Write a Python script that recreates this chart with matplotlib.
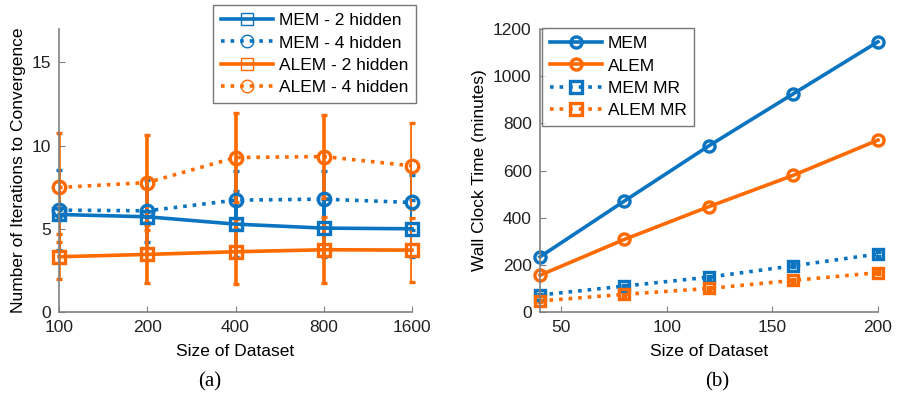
import matplotlib
matplotlib.use('Agg')
from matplotlib import pyplot as plt
from matplotlib.lines import Line2D

plt.rcParams['font.family'] = ['Liberation Sans', 'DejaVu Sans']

blue = '#0a74c0'
orange = '#ff6a00'

# (a) iterations to convergence
sizes_a = ['100', '200', '400', '800', '1600']
mem2 = [5.86, 5.72, 5.28, 5.04, 5.0]
mem2_err = [0.3, 0.3, 2.0, 1.72, 1.7]
mem4 = [6.12, 6.08, 6.72, 6.78, 6.58]
mem4_err = [2.4, 1.86, 1.76, 1.7, 1.64]
alem2 = [3.32, 3.46, 3.62, 3.74, 3.72]
alem2_err = [1.36, 1.74, 1.95, 1.98, 1.94]
alem4 = [7.48, 7.78, 9.28, 9.34, 8.78]
alem4_err = [3.3, 2.86, 2.68, 2.52, 2.58]

# (b) wall clock time
sizes_b = [40, 80, 120, 160, 200]
mem_t = [234, 471, 705, 926, 1146]
alem_t = [156, 308, 447, 580, 729]
mem_mr = [72, 110, 148, 196, 246]
mem_mr_err = [5, 6, 6, 7, 8]
alem_mr = [47, 75, 100, 134, 167]
alem_mr_err = [4, 5, 5, 6, 7]

fs = 12.5

fig = plt.figure(figsize=(8.97, 3.96), dpi=100)
ax1 = fig.add_axes([0.0658, 0.2121, 0.3935, 0.7146])
ax2 = fig.add_axes([0.602, 0.2121, 0.3768, 0.7146])

idx = range(len(sizes_a))
kw = dict(lw=2.6, ms=9, mew=2.4, mfc='none', capsize=2.5, capthick=3, elinewidth=2.6)
ax1.errorbar(idx, mem2, yerr=mem2_err, color=blue, ls='-', marker='s', **kw)
ax1.errorbar(idx, mem4, yerr=mem4_err, color=blue, ls=':', marker='o', **kw)
ax1.errorbar(idx, alem2, yerr=alem2_err, color=orange, ls='-', marker='s', **kw)
ax1.errorbar(idx, alem4, yerr=alem4_err, color=orange, ls=':', marker='o', **kw)
ax1.set_xticks(list(idx))
ax1.set_xticklabels(sizes_a)
ax1.set_xlim(0, 4)
ax1.set_ylim(0, 17)
ax1.set_yticks([0, 5, 10, 15])
ax1.set_xlabel('Size of Dataset', fontsize=fs, labelpad=6)
ax1.set_ylabel('Number of Iterations to Convergence', fontsize=fs, labelpad=4)

legkw = dict(fontsize=fs, fancybox=False, edgecolor='#555555', handlelength=3.0,
             borderpad=0.45, labelspacing=0.42, handletextpad=0.35, borderaxespad=0)

hk = dict(lw=2.6, ms=9, mew=1.0, mfc='none')
h1 = [Line2D([], [], color=blue, ls='-', marker='s', **hk),
      Line2D([], [], color=blue, ls=':', marker='o', **hk),
      Line2D([], [], color=orange, ls='-', marker='s', **hk),
      Line2D([], [], color=orange, ls=':', marker='o', **hk)]
l1 = ['MEM - 2 hidden', 'MEM - 4 hidden', 'ALEM - 2 hidden', 'ALEM - 4 hidden']
leg1 = ax1.legend(h1, l1, loc='upper right', bbox_to_anchor=(0.4638, 0.987),
                  bbox_transform=fig.transFigure, **legkw)
leg1.get_frame().set_linewidth(1.0)

ax2.plot(sizes_b, mem_t, color=blue, ls='-', marker='o', lw=2.6, ms=8, mew=2.4, mfc='none')
ax2.plot(sizes_b, alem_t, color=orange, ls='-', marker='o', lw=2.6, ms=8, mew=2.4, mfc='none')
ax2.errorbar(sizes_b, mem_mr, yerr=mem_mr_err, color=blue, ls=':', marker='s', lw=2.6, ms=7, mew=2.4,
             mfc='none', capsize=2, elinewidth=1.2)
ax2.errorbar(sizes_b, alem_mr, yerr=alem_mr_err, color=orange, ls=':', marker='s', lw=2.6, ms=7, mew=2.4,
             mfc='none', capsize=2, elinewidth=1.2)
ax2.set_xlim(40, 200)
ax2.set_ylim(0, 1200)
ax2.set_xticks([50, 100, 150, 200])
ax2.set_yticks(range(0, 1201, 200))
ax2.set_xlabel('Size of Dataset', fontsize=fs, labelpad=6)
ax2.set_ylabel('Wall Clock Time (minutes)', fontsize=fs, labelpad=4)

hk2 = dict(lw=2.6, ms=8, mew=2.4, mfc='none')
h2 = [Line2D([], [], color=blue, ls='-', marker='o', **hk2),
      Line2D([], [], color=orange, ls='-', marker='o', **hk2),
      Line2D([], [], color=blue, ls=':', marker='s', **hk2),
      Line2D([], [], color=orange, ls=':', marker='s', **hk2)]
l2 = ['MEM', 'ALEM', 'MEM MR', 'ALEM MR']
leg2 = ax2.legend(h2, l2, loc='upper left', bbox_to_anchor=(0.604, 0.929),
                  bbox_transform=fig.transFigure, **legkw)
leg2.get_frame().set_linewidth(1.0)

for ax in (ax1, ax2):
    for s in ('top', 'right'):
        ax.spines[s].set_visible(False)
    for s in ('left', 'bottom'):
        ax.spines[s].set_color('#808080')
        ax.spines[s].set_linewidth(1.2)
    ax.tick_params(direction='in', length=4, color='#808080', labelsize=fs, labelcolor='#222222', pad=6)
    for ln in ax.get_lines():
        ln.set_clip_on(False)

fig.text(0.234, 0.025, '(a)', fontsize=15, family='Liberation Serif', ha='center')
fig.text(0.80, 0.025, '(b)', fontsize=15, family='Liberation Serif', ha='center')

fig.savefig('out.png', dpi=100)
